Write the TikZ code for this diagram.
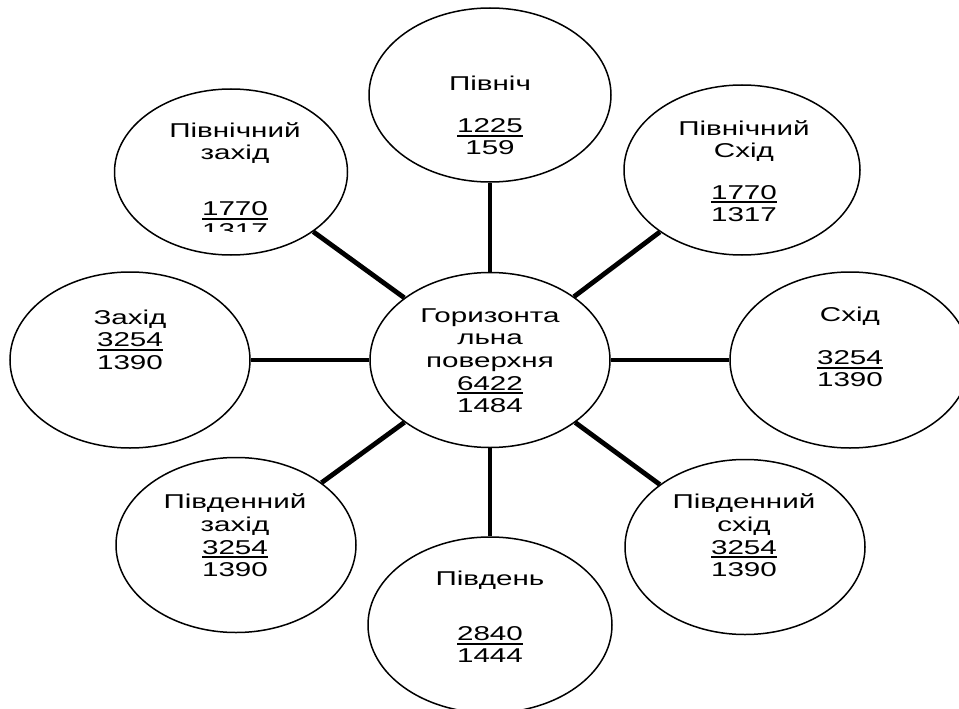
\documentclass[tikz,border=0pt]{standalone}
\usepackage{fontspec}
\setmainfont{Liberation Sans}[FakeStretch=1.48]
\usetikzlibrary{shapes.geometric}
\newcommand\numul[1]{\setbox0\hbox{#1}\rlap{\rule[-4.3pt]{\wd0}{2pt}}\box0}
\begin{document}
\begin{tikzpicture}[x=1pt,y=-1pt,
  oval/.style={draw, line width=1.5pt, ellipse, inner sep=0pt, minimum width=240pt, minimum height=175pt},
  conn/.style={line width=4.8pt},
  lbl/.style={font=\fontsize{20}{22}\selectfont, align=center, inner sep=0pt, anchor=north},
  lblw/.style={lbl, font=\fontsize{20}{22.6}\selectfont}]
\useasboundingbox (0,0) rectangle (959,709);
\clip (0,0) rectangle (959,709);
% ellipses
\node[oval] (C)  at (490,360) {};
\node[oval, minimum width=242pt, minimum height=174pt] (N)  at (490,95) {};
\node[oval, minimum width=233pt, minimum height=166pt] (NW) at (231,172) {};
\node[oval, minimum width=236pt, minimum height=170pt] (NE) at (742,170) {};
\node[oval, minimum height=176pt] (W)  at (130,360) {};
\node[oval, minimum height=176pt] (E)  at (850,360) {};
\node[oval] (SW) at (236,545) {};
\node[oval] (SE) at (745,547) {};
\node[oval, minimum width=244pt, minimum height=176pt] (S)  at (490,625) {};
% connectors
\draw[conn] (C) -- (N);
\draw[conn] (C) -- (S);
\draw[conn] (C) -- (W);
\draw[conn] (C) -- (E);
\draw[conn] (C) -- (NW);
\draw[conn] (C) -- (NE);
\draw[conn] (C) -- (SW);
\draw[conn] (C) -- (SE);
% texts
\node[lbl] (tN)  at (490,76.3) {Північ\\[20pt]\numul{1225}\\159};
\begin{scope}
\clip (100,80) rectangle (360,231);
\node[lbl] (tNW) at (235,122.3) {Північний\\захід\\[34pt]\numul{1770}\\1317};
\end{scope}
\node[lbl] (tNE) at (744,120.6) {Північний\\Схід\\[19.5pt]\numul{1770}\\1317};
\node[lblw] (tW) at (130,309.6) {Захід\\\numul{3254}\\1390};
\node[lbl] (tE)  at (850,307.3) {Схід\\[20.3pt]\numul{3254}\\1390};
\node[lblw] (tC) at (490,308.3) {Горизонта\\льна\\поверхня\\\numul{6422}\\1484};
\node[lblw] (tSW) at (235,493.9) {Південний\\захід\\\numul{3254}\\1390};
\node[lblw] (tSE) at (744,493.9) {Південний\\схід\\\numul{3254}\\1390};
\node[lbl] (tS)  at (490,570.6) {Південь\\[33pt]\numul{2840}\\1444};
\end{tikzpicture}
\end{document}
